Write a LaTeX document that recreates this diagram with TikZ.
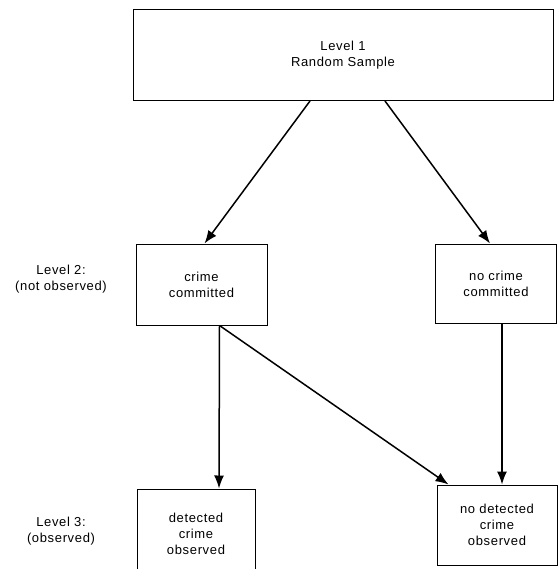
\documentclass[tikz,border=0pt]{standalone}
\usepackage{fontspec}
\setmainfont[LetterSpace=5]{Liberation Sans}
\usetikzlibrary{arrows.meta}
\begin{document}
\begin{tikzpicture}[x=1pt,y=-1pt,
  box/.style={draw,line width=1pt,align=center,font=\fontsize{13}{16}\selectfont,inner sep=0pt},
  lab/.style={align=center,font=\fontsize{13}{16}\selectfont},
  arr/.style={line width=1.5pt,-{Latex[length=13pt,width=10pt]}}]
\useasboundingbox (0,0) rectangle (558,569);
\node[box,minimum width=420pt,minimum height=91pt] (top) at (343,55) {Level 1\\Random Sample};
\node[box,minimum width=131pt,minimum height=81pt] (crime) at (201.5,284.5) {crime\\committed};
\node[box,minimum width=121pt,minimum height=79pt] (nocrime) at (496,283.5) {no crime\\committed};
\node[box,minimum width=118pt,minimum height=90pt] (det) at (196,534) {detected\\crime\\observed};
\node[box,minimum width=120pt,minimum height=80pt] (nodet) at (497,525) {no detected\\crime\\observed};
\node[lab] (l2) at (61,279) {Level 2:\\(not observed)};
\node[lab] (l3) at (61,531) {Level 3:\\(observed)};
\draw[arr] ([xshift=-33pt]top.south) -- ([xshift=3pt]crime.north);
\draw[arr] ([xshift=42pt]top.south) -- ([xshift=-6pt]nocrime.north);
\draw[arr] ([xshift=18pt]crime.south) -- ([xshift=23pt]det.north);
\draw[arr] ([xshift=18pt]crime.south) -- ([xshift=12pt]nodet.north west);
\draw[arr] ([xshift=6pt]nocrime.south) -- ([xshift=5pt]nodet.north);
\end{tikzpicture}
\end{document}
